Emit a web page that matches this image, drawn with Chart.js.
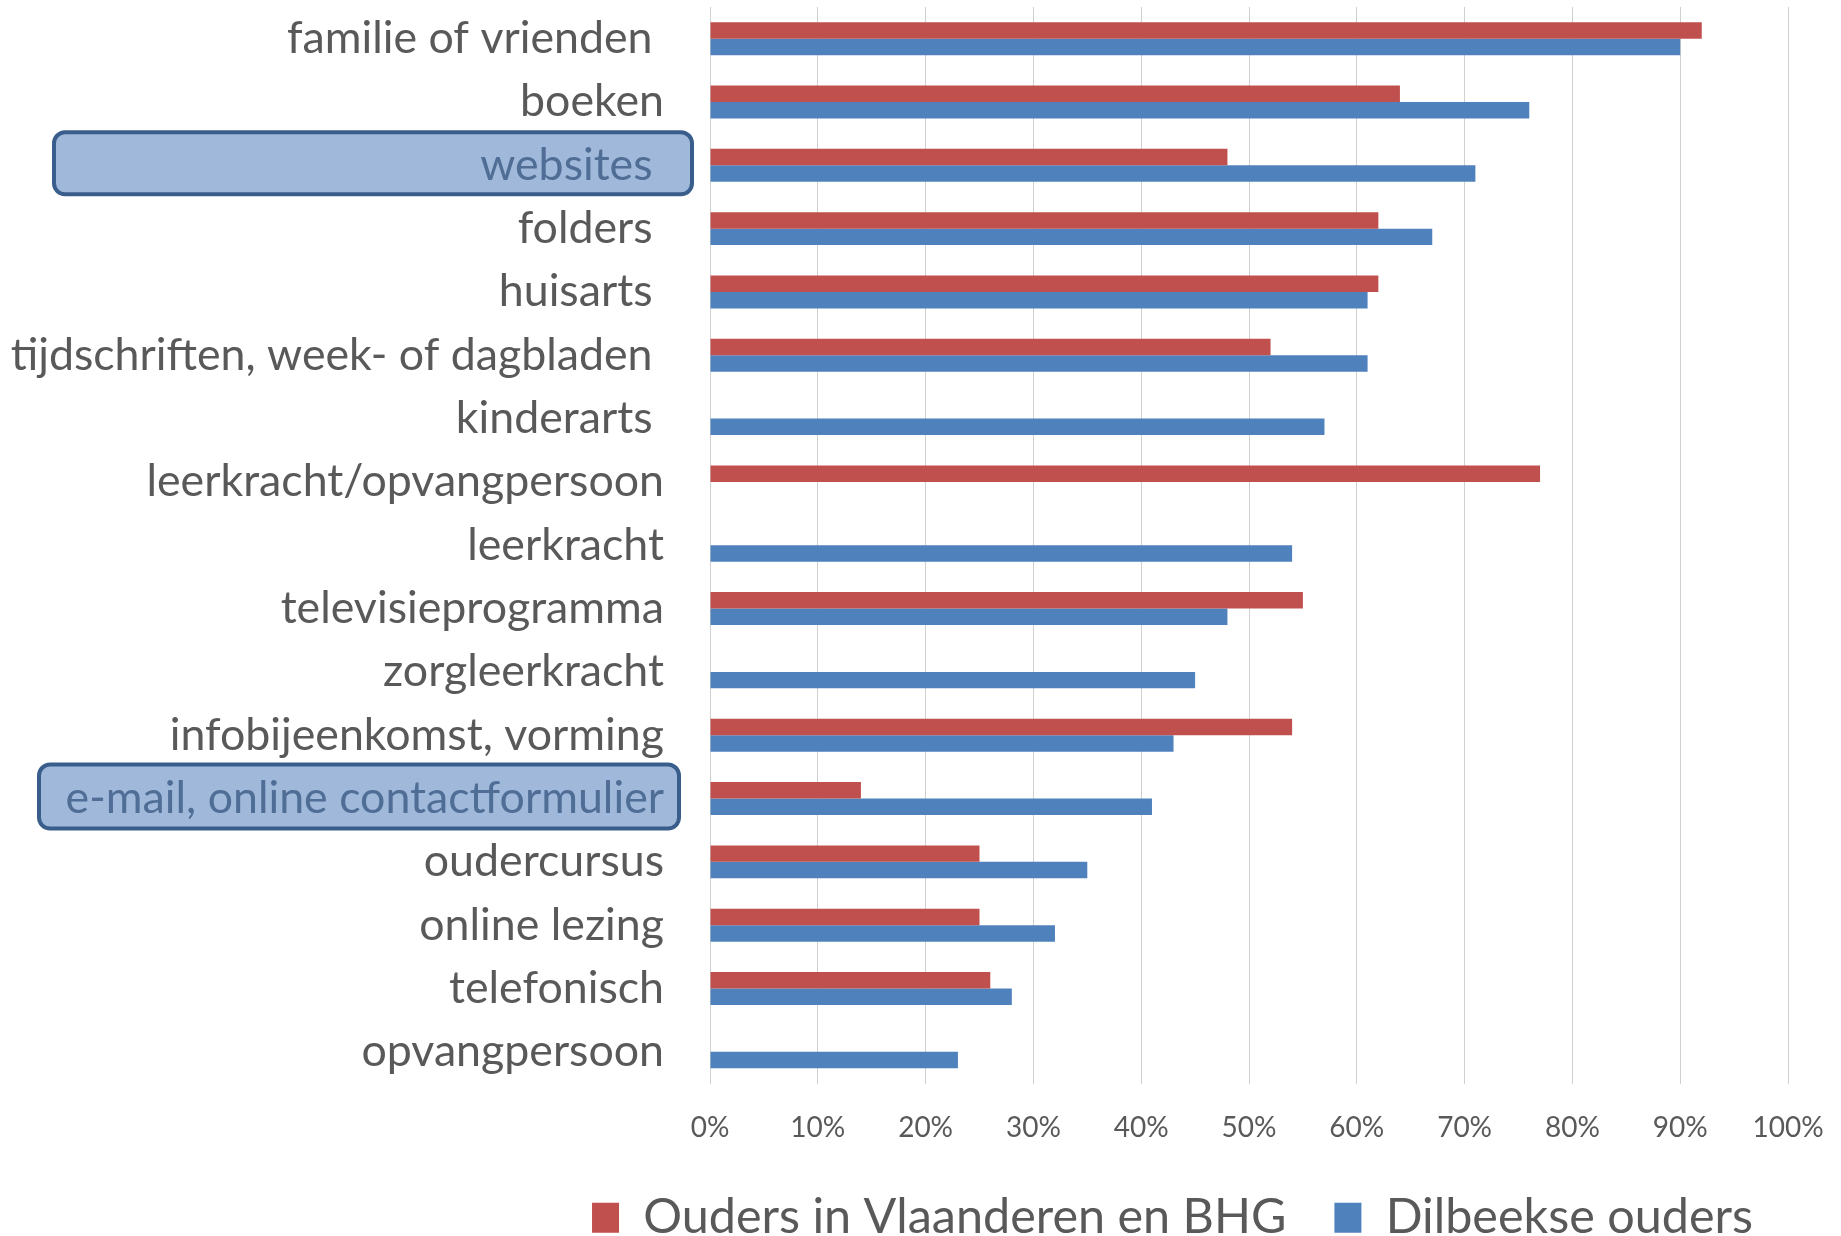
<!DOCTYPE html>
<html>
<head>
<meta charset="utf-8">
<script src="https://cdn.jsdelivr.net/npm/chart.js@4.4.0/dist/chart.umd.min.js"></script>
<style>
html,body{margin:0;padding:0;background:#fff}
#wrap{width:1841px;height:1236px;position:relative}
</style>
</head>
<body>
<div id="wrap"><canvas id="infoChart"></canvas></div>
<script>

// categories (some have a trailing space, like in the original sheet)
const categories = [
"familie of vrienden ",
"boeken",
"websites ",
"folders ",
"huisarts ",
"tijdschriften, week- of dagbladen ",
"kinderarts ",
"leerkracht/opvangpersoon",
"leerkracht",
"televisieprogramma",
"zorgleerkracht",
"infobijeenkomst, vorming",
"e-mail, online contactformulier",
"oudercursus",
"online lezing",
"telefonisch",
"opvangpersoon"
]

const seriesNames = ["Ouders in Vlaanderen en BHG","Dilbeekse ouders"]

const vlaanderenValues = [92,64,48,62,62,52,null,77,null,55,null,54,14,25,25,26,null]
const dilbeekValues = [90,76,71,67,61,61,57,null,54,48,45,43,41,35,32,28,23]

const xTicks = [0,10,20,30,40,50,60,70,80,90,100]

// labels that get the blue box behind them
const highlighted = [2,12]

const fontFamily = "Lato, 'Open Sans', sans-serif"

// ===============================
// BOX BEHIND HIGHLIGHTED LABELS
// ===============================
const highlightBoxes = {
id:"highlightBoxes",
beforeDraw(chart,args,opts){
const ctx = chart.ctx
const y = chart.scales.y
opts.boxes.forEach(b=>{
const cy = y.getPixelForValue(b.index) + b.shift
ctx.save()
ctx.beginPath()
ctx.roundRect(b.left, cy-b.half, b.right-b.left, b.half*2, 11)
ctx.fillStyle = "#a0b9db"
ctx.fill()
ctx.lineWidth = 4
ctx.strokeStyle = "#3a5e8c"
ctx.stroke()
ctx.restore()
})
}
}

const ctx = document.getElementById("infoChart")

new Chart(ctx,{

type:"bar",

data:{
labels:categories,
datasets:[
{
label:seriesNames[0],
data:vlaanderenValues,
backgroundColor:"#c0504d",
categoryPercentage:0.52,
barPercentage:1.0
},
{
label:seriesNames[1],
data:dilbeekValues,
backgroundColor:"#4f81bd",
categoryPercentage:0.52,
barPercentage:1.0
}
]
},

plugins:[highlightBoxes],

options:{
indexAxis:"y",
responsive:true,
maintainAspectRatio:false,
animation:false,

layout:{
padding:{top:7,left:0,right:40,bottom:-16}
},

plugins:{
legend:{
position:"bottom",
align:"end",
labels:{
boxWidth:27,
boxHeight:30,
padding:48,
color:"#595959",
font:{family:fontFamily,size:48.5}
}
},
tooltip:{enabled:false},
highlightBoxes:{
boxes:[
{index:2,left:54,right:692,half:31,shift:-2},
{index:12,left:39,right:679,half:32,shift:-2}
]
}
},

scales:{

x:{
min:0,
max:100,
afterBuildTicks(scale){
scale.ticks = xTicks.map(v=>({value:v}))
},
afterFit(scale){
scale.height = 62
scale.paddingRight = 53
},
grid:{
color:"#d0d0d0",
lineWidth:1,
drawTicks:false
},
border:{display:false},
ticks:{
padding:28,
color:"#595959",
font:{family:fontFamily,size:28},
callback:v=>v+"%"
}
},

y:{
afterFit(scale){
scale.width = 710
scale.paddingTop = 0
scale.paddingBottom = 0
},
grid:{display:false,drawTicks:false},
border:{display:false},
ticks:{
padding:46,
autoSkip:false,
color:(c)=>highlighted.includes(c.index) ? "#4f6d95" : "#595959",
font:{family:fontFamily,size:44.7}
}
}

}

}

})

</script>
</body>
</html>
